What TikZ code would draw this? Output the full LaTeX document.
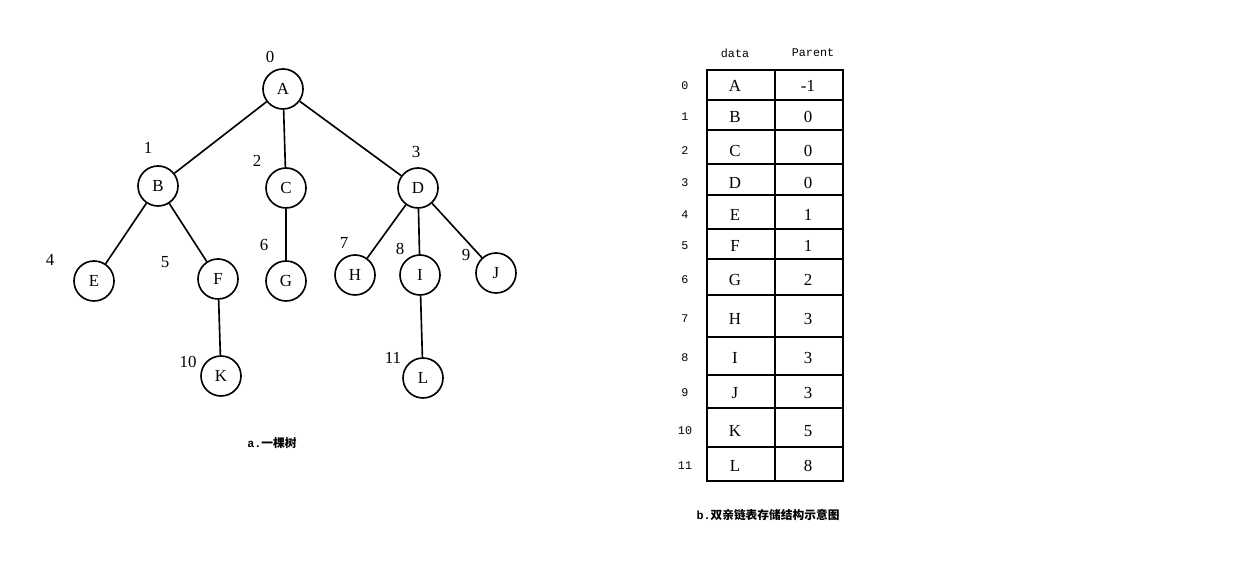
\documentclass[tikz,border=0pt]{standalone}
\usepackage{fontspec}
\setmainfont{Liberation Serif}
\setmonofont{Liberation Mono}
\newfontfamily\cjk{Noto Sans CJK SC}
\begin{document}
\begin{tikzpicture}[x=0.03cm, y=-0.03cm, line width=1.4pt,
  every node/.style={font=\Large},
  vert/.style={circle, draw, minimum size=1.2cm, inner sep=0pt},
  idx/.style={font=\Large},
  cell/.style={font=\Large},
  small/.style={font=\normalsize\ttfamily}]
  \useasboundingbox (0,0) rectangle (1250,570);

  % tree vertices
  \node[vert] (A) at (283,89) {A};
  \node[vert] (B) at (158,186) {B};
  \node[vert] (C) at (286,188) {C};
  \node[vert] (D) at (418,188) {D};
  \node[vert] (E) at (94,281) {E};
  \node[vert] (F) at (218,279) {F};
  \node[vert] (G) at (286,281) {G};
  \node[vert] (H) at (355,275) {H};
  \node[vert] (I) at (420,275) {I};
  \node[vert] (J) at (496,273) {J};
  \node[vert] (K) at (221,376) {K};
  \node[vert] (L) at (423,378) {L};

  % edges
  \draw (A) -- (B);
  \draw (A) -- (C);
  \draw (A) -- (D);
  \draw (B) -- (E);
  \draw (B) -- (F);
  \draw (C) -- (G);
  \draw (D) -- (H);
  \draw (D) -- (I);
  \draw (D) -- (J);
  \draw (F) -- (K);
  \draw (I) -- (L);

  % vertex numbers
  \node[idx] at (270,57) {0};
  \node[idx] at (148,148) {1};
  \node[idx] at (257,161) {2};
  \node[idx] at (416,152) {3};
  \node[idx] at (50,260) {4};
  \node[idx] at (165,262) {5};
  \node[idx] at (264,245) {6};
  \node[idx] at (344,243) {7};
  \node[idx] at (400,249) {8};
  \node[idx] at (466,255) {9};
  \node[idx] at (188,362) {10};
  \node[idx] at (393,358) {11};

  \node (capa) at (272,443) {\normalsize\ttfamily\bfseries a.\cjk 一棵树};

  % parent table
  \node[small] (hdata) at (735,53) {data};
  \node[small] (hpar) at (813,53) {Parent};
  \draw (707,70) rectangle (843,481);
  \draw (775,70) -- (775,481);
  \foreach \y in {100,130,164,195,229,259,295,337,375,408,447}
    \draw (707,\y) -- (843,\y);

  \foreach \n/\d/\p/\y in {0/A/-1/86, 1/B/0/117, 2/C/0/151, 3/D/0/183,
      4/E/1/215, 5/F/1/246, 6/G/2/280, 7/H/3/319, 8/I/3/358,
      9/J/3/393, 10/K/5/431, 11/L/8/466} {
    \node[small] (r\n) at (685,\y) {\n};
    \node[cell] (d\n) at (735,\y) {\d};
    \node[cell] (p\n) at (808,\y) {\p};
  }

  \node (capb) at (768,515) {\normalsize\ttfamily\bfseries b.\cjk 双亲链表存储结构示意图};
\end{tikzpicture}
\end{document}
